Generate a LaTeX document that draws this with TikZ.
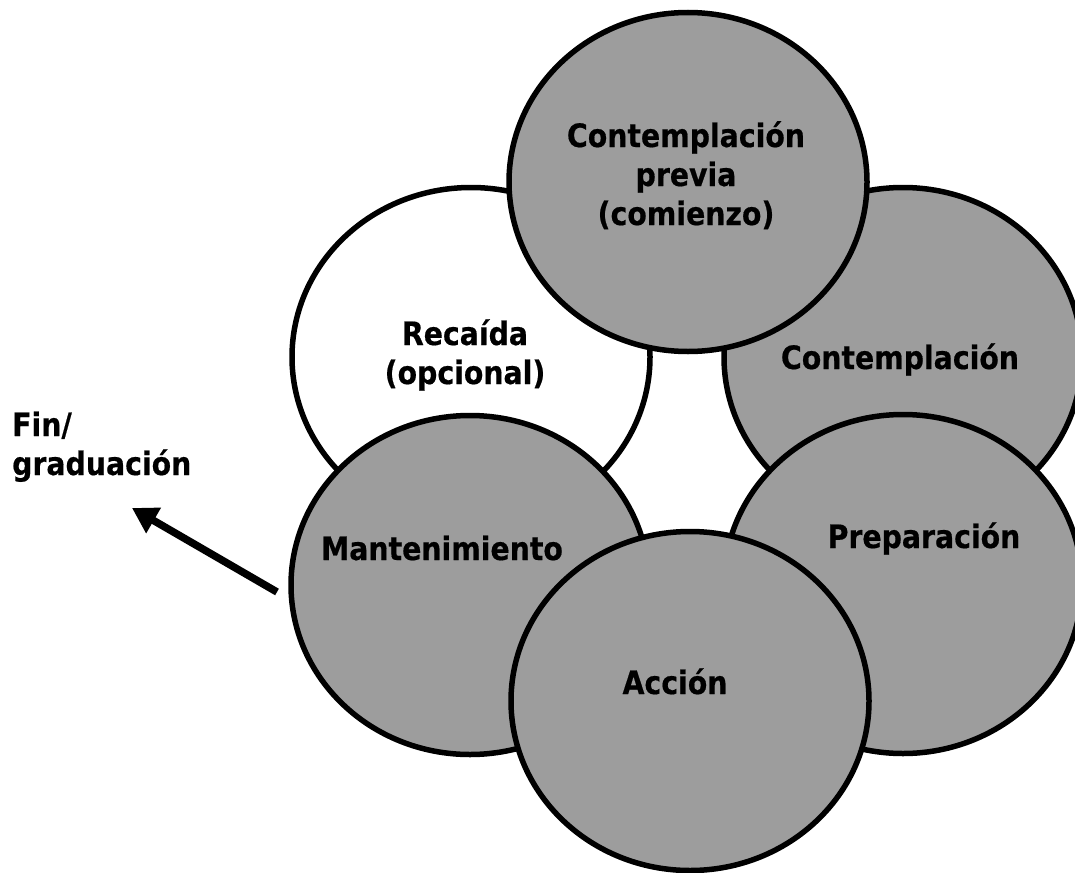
\documentclass[tikz,border=0pt]{standalone}
\usepackage{fontspec}
\setmainfont{DejaVu Sans}[FakeStretch=0.88,BoldFeatures={FakeBold=0.5}]
\usetikzlibrary{shapes.geometric,arrows.meta}
\definecolor{stagegray}{RGB}{157,157,157}
\begin{document}
\begin{tikzpicture}[x=1pt,y=-1pt,
  stage/.style={ellipse,draw=black,line width=5.5pt,fill=stagegray,
    minimum width=358pt,minimum height=339pt,inner sep=0pt},
  lbl/.style={font=\fontsize{32.2}{39}\selectfont\bfseries,align=center,
    anchor=base,inner sep=0pt},
  exitarrow/.style={line width=7.5pt,-{Triangle[length=25pt,width=28pt]}}]
\useasboundingbox (0,0) rectangle (1075,872);
\node[stage,fill=white] (rec) at (471,357) {};
\node[stage] (cont) at (903,357) {};
\node[stage] (mant) at (470,585) {};
\node[stage] (prep) at (903,584) {};
\node[stage] (acc) at (690,701) {};
\node[stage] (prev) at (688,182) {};
\node[lbl] (tprev) at (686,225) {Contemplación\\previa\\(comienzo)};
\node[lbl] (trec) at (465,384) {Recaída\\(opcional)};
\node[lbl] (tcont) at (900,369) {Contemplación};
\node[lbl] (tprep) at (924,548) {Preparación};
\node[lbl] (tmant) at (442,560) {Mantenimiento};
\node[lbl] (tacc) at (675,694) {Acción};
\node[lbl,align=left,anchor=base west] (tfin) at (12,475) {Fin/\\graduación};
\coordinate (tail) at (277,592);
\coordinate (tip) at (132,508);
\draw[exitarrow] (tail) -- (tip);
\end{tikzpicture}
\end{document}
